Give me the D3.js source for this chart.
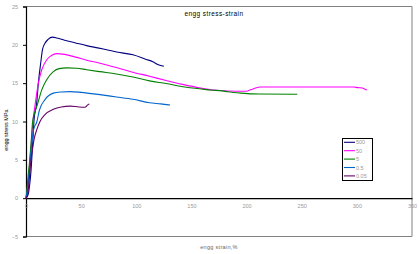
<!DOCTYPE html>
<html>
<head>
<meta charset="utf-8">
<script src="https://cdn.jsdelivr.net/npm/d3@7"></script>
<style>
  body { margin: 0; background: #fff; }
  svg { font-family: "Liberation Sans", Arial, sans-serif; }
</style>
</head>
<body>
<svg width="419" height="254"></svg>
<script>
var svg = d3.select("svg"),
    plotLeft = 26, plotTop = 6.5, plotRight = 412, plotBottom = 236.5;

// strain (%) / stress (MPa) per strain rate
var rates = ["500", "50", "5", "0.5", "0.05"];
var colors = ["#000080", "#ff00ff", "#008000", "#0066cc", "#660066"];

var strain500 = [0, 2, 3.5, 4.5, 5.2, 6.2, 7.3, 9.7, 11.2, 13.3, 15, 17.2, 20, 24, 28, 35, 45, 55, 65, 75, 85, 97, 109, 115, 120, 125];
var stress500 = [0, 0.5, 2, 3.5, 5, 7.5, 10.2, 12.4, 15, 17.6, 19.4, 20.2, 20.7, 21.0, 20.9, 20.6, 20.25, 19.9, 19.6, 19.3, 19.0, 18.7, 18.1, 17.8, 17.4, 17.2];

var strain50 = [0, 1, 2.5, 3.6, 5, 6.3, 8.1, 11.2, 14.3, 18.8, 23, 27.8, 35, 45, 55, 67, 80, 95, 112, 127, 142, 158, 170, 183, 200, 203, 206, 209, 212, 250, 297, 301, 305, 307, 309];
var stress50 = [0, 1, 3, 5, 7.5, 10, 12, 15, 16.75, 18.05, 18.6, 18.85, 18.75, 18.4, 18.0, 17.6, 17.1, 16.5, 15.9, 15.35, 14.84, 14.37, 14.1, 13.98, 13.95, 14.1, 14.25, 14.4, 14.5, 14.5, 14.5, 14.42, 14.37, 14.25, 14.1];

var strain5 = [0, 0.8, 2, 3.4, 4.8, 6, 8, 10.3, 14.2, 18.8, 24.8, 30, 37, 46, 55, 67, 82, 97, 112, 127, 144, 151, 159, 167, 178, 183, 195, 212, 246];
var stress5 = [0, 1, 3, 5, 7.5, 10, 11.2, 12.2, 14.1, 15.45, 16.5, 16.9, 17.0, 16.95, 16.75, 16.5, 16.2, 15.8, 15.3, 14.95, 14.5, 14.37, 14.24, 14.1, 14.0, 13.88, 13.7, 13.58, 13.55];

var strain05 = [0, 1.2, 2.8, 4, 5.5, 7, 9.7, 12.2, 17.2, 24.8, 32, 40, 50, 67, 82, 97, 112, 122, 130.6];
var stress05 = [0, 1, 3, 5, 7.5, 9, 9.9, 11.5, 12.85, 13.7, 13.85, 13.9, 13.8, 13.5, 13.2, 12.9, 12.45, 12.3, 12.15];

var strain005 = [0, 1.5, 3, 4.5, 6, 7.5, 9.7, 12.7, 17.2, 24.8, 32, 40, 45, 48, 52, 54, 55.5, 57.4];
var stress005 = [0, 0.5, 2.5, 5, 6.5, 7.8, 8.9, 10.0, 10.9, 11.6, 11.9, 12.0, 11.95, 11.9, 11.85, 11.9, 12.1, 12.3];

var strains = [strain500, strain50, strain5, strain05, strain005];
var stresses = [stress500, stress50, stress5, stress05, stress005];

var xTicks = [0, 50, 100, 150, 200, 250, 300, 350];
var yTicks = [-5, 0, 5, 10, 15, 20, 25];

var x = d3.scaleLinear().domain([0, 350]).range([plotLeft, plotRight]);
var y = d3.scaleLinear().domain([-5, 25]).range([plotBottom, plotTop]);

// plot frame
svg.append("path")
    .attr("d", "M" + plotLeft + "," + plotTop + "H" + plotRight + "V" + plotBottom + "H" + plotLeft)
    .attr("fill", "none")
    .attr("stroke", "#808080")
    .attr("stroke-width", 1);

// y axis
var yAxis = svg.append("g")
    .attr("transform", "translate(" + plotLeft + ",0)")
    .call(d3.axisLeft(y).tickValues(yTicks).tickSize(3).tickPadding(5));
yAxis.select(".domain").attr("stroke", "#000").attr("stroke-width", 1.2);
yAxis.selectAll(".tick line").attr("stroke", "#000");
yAxis.selectAll("text").attr("fill", "#999").style("font-size", "5.5px");

// x axis on the zero line
var xAxis = svg.append("g")
    .attr("transform", "translate(0," + y(0) + ")")
    .call(d3.axisBottom(x).tickValues(xTicks).tickSize(0).tickPadding(6));
xAxis.select(".domain").attr("stroke", "#000").attr("stroke-width", 1.2);
xAxis.selectAll("text").attr("fill", "#999").style("font-size", "5.5px");

// curves
var line = d3.line()
    .x(function(d) { return x(d[0]); })
    .y(function(d) { return y(d[1]); })
    .curve(d3.curveMonotoneX);

rates.forEach(function(r, i) {
  var pts = strains[i].map(function(s, j) { return [s, stresses[i][j]]; });
  svg.append("path")
      .datum(pts)
      .attr("d", line)
      .attr("fill", "none")
      .attr("stroke", colors[i])
      .attr("stroke-width", 1.1);
});

// titles
svg.append("text")
    .attr("x", 214).attr("y", 15.5)
    .attr("text-anchor", "middle")
    .style("font-size", "6.5px")
    .style("letter-spacing", "0.4px")
    .text("engg stress-strain");

svg.append("text")
    .attr("x", 219).attr("y", 249)
    .attr("text-anchor", "middle")
    .attr("fill", "#666")
    .style("font-size", "5.5px")
    .style("letter-spacing", "0.3px")
    .text("engg strain,%");

svg.append("text")
    .attr("transform", "translate(8,130) rotate(-90)")
    .attr("text-anchor", "middle")
    .style("font-size", "5.5px")
    .text("engg stress MPa");

// legend
var legend = svg.append("g");
legend.append("rect")
    .attr("x", 342.5).attr("y", 138.5)
    .attr("width", 30).attr("height", 42)
    .attr("fill", "#fff")
    .attr("stroke", "#000")
    .attr("stroke-width", 1);

rates.forEach(function(r, i) {
  var ly = 142.3 + i * 8.4;
  legend.append("line")
      .attr("x1", 344).attr("x2", 355)
      .attr("y1", ly).attr("y2", ly)
      .attr("stroke", colors[i])
      .attr("stroke-width", 1.1);
  legend.append("text")
      .attr("x", 356).attr("y", ly + 2)
      .attr("fill", "#999")
      .style("font-size", "5.5px")
      .text(r);
});
</script>
</body>
</html>
